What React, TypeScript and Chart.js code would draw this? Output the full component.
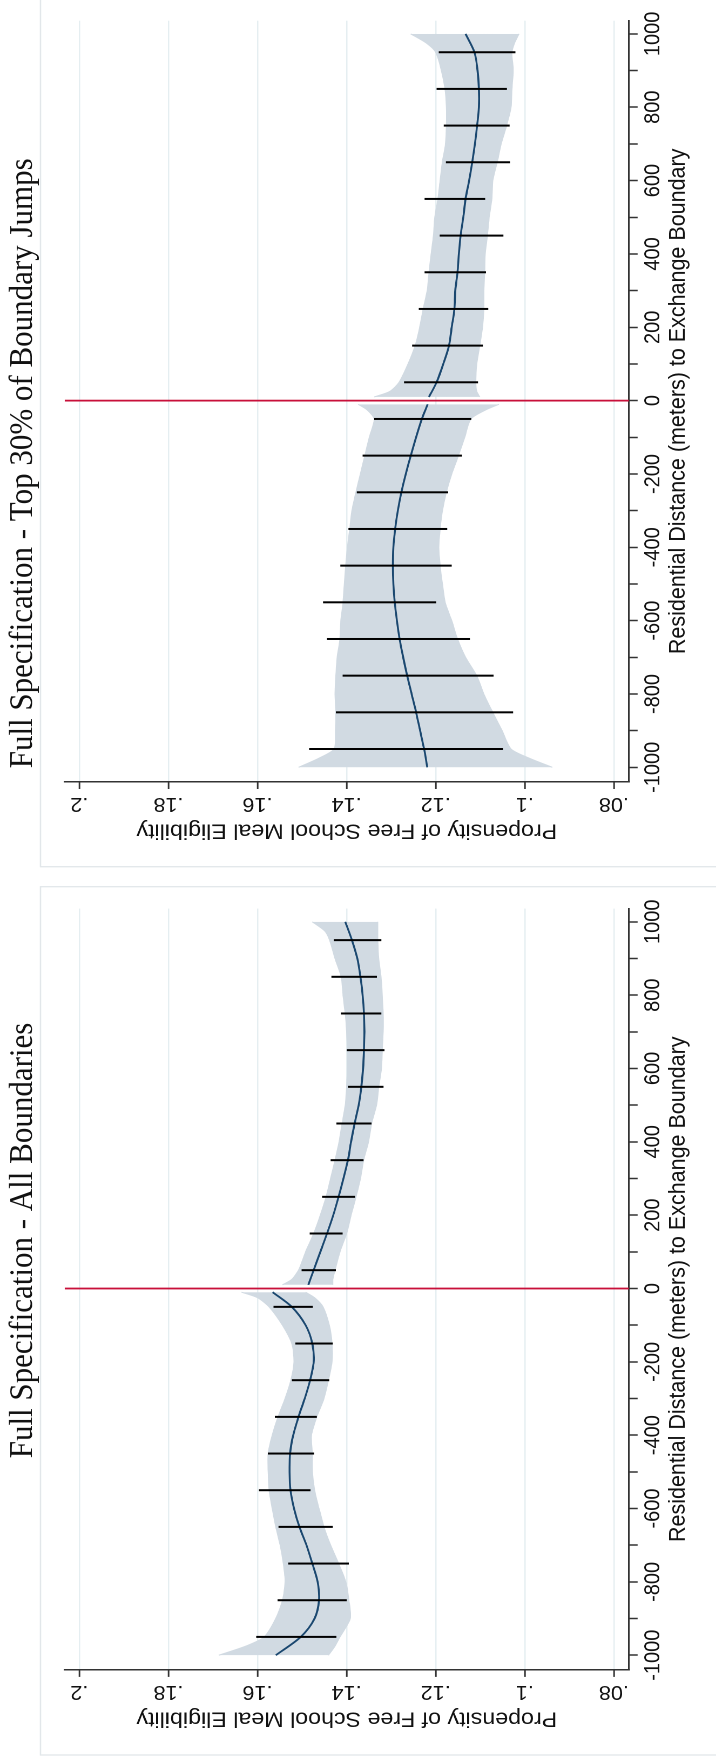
import React, { useEffect, useRef } from "react";
import { Chart, registerables } from "chart.js";

Chart.register(...registerables);

// ---------- axes ----------
const X_MIN = -1040;
const X_MAX = 1036;
const Y_MIN = 0.0766;
const Y_MAX = 0.2033;
const X_TICKS = [-1000, -900, -800, -700, -600, -500, -400, -300, -200, -100, 0, 100, 200, 300, 400, 500, 600, 700, 800, 900, 1000];
const X_LABELED = [-1000, -800, -600, -400, -200, 0, 200, 400, 600, 800, 1000];
const Y_TICKS = [0.08, 0.1, 0.12, 0.14, 0.16, 0.18, 0.2];
const Y_TICK_LABELS = [".08", ".1", ".12", ".14", ".16", ".18", ".2"];
const X_TITLE = "Residential Distance (meters) to Exchange Boundary";
const Y_TITLE = "Propensity of Free School Meal Eligibility";
const CUTOFF = 0;

// ---------- shared x positions ----------
const BIN_CENTERS = [-950, -850, -750, -650, -550, -450, -350, -250, -150, -50, 50, 150, 250, 350, 450, 550, 650, 750, 850, 950];
const BAND_LEFT_D = [-1000, -975, -950, -900, -850, -800, -750, -700, -650, -600, -550, -500, -450, -400, -350, -300, -250, -200, -150, -100, -50, -25, -10];
const BAND_RIGHT_D = [10, 25, 50, 100, 150, 200, 250, 300, 350, 400, 450, 500, 550, 600, 650, 700, 750, 800, 850, 900, 950, 975, 1000];
const FIT_LEFT_D = [-1000, -950, -900, -850, -800, -750, -700, -650, -600, -550, -500, -450, -400, -350, -300, -250, -200, -150, -100, -50, -10];
const FIT_RIGHT_D = [10, 50, 100, 150, 200, 250, 300, 350, 400, 450, 500, 550, 600, 650, 700, 750, 800, 850, 900, 950, 1000];

// ---------- panel 1: All Boundaries ----------
const P1_TITLE = "Full Specification - All Boundaries";
const P1_BAR_LO = [0.1423, 0.1400, 0.1395, 0.1431, 0.1481, 0.1473, 0.1467, 0.1439, 0.1431, 0.1476, 0.1424, 0.1409, 0.1381, 0.1362, 0.1344, 0.1317, 0.1315, 0.1322, 0.1332, 0.1322];
const P1_BAR_HI = [0.1603, 0.1555, 0.1531, 0.1553, 0.1597, 0.1577, 0.1561, 0.1523, 0.1515, 0.1564, 0.1501, 0.1483, 0.1455, 0.1436, 0.1423, 0.1397, 0.1400, 0.1413, 0.1434, 0.1429];
const P1_BAND_L_HI = [0.1687, 0.1626, 0.1585, 0.1559, 0.1544, 0.1538, 0.1542, 0.1549, 0.1559, 0.1567, 0.1574, 0.1576, 0.1576, 0.1567, 0.1554, 0.1538, 0.1525, 0.1518, 0.1523, 0.1544, 0.1574, 0.1600, 0.1636];
const P1_BAND_L_LO = [0.1441, 0.1426, 0.1415, 0.1392, 0.1395, 0.1402, 0.1418, 0.1436, 0.1451, 0.1462, 0.1472, 0.1477, 0.1477, 0.1479, 0.1467, 0.1451, 0.1441, 0.1433, 0.1433, 0.1439, 0.1453, 0.1472, 0.1492];
const P1_BAND_R_HI = [0.1544, 0.1523, 0.1508, 0.1492, 0.1474, 0.1459, 0.1446, 0.1436, 0.1426, 0.1417, 0.1410, 0.1403, 0.1400, 0.1398, 0.1398, 0.1400, 0.1403, 0.1408, 0.1412, 0.1426, 0.1438, 0.1449, 0.1477];
const P1_BAND_R_LO = [0.1431, 0.1431, 0.1426, 0.1415, 0.1400, 0.1390, 0.1379, 0.1369, 0.1362, 0.1351, 0.1344, 0.1333, 0.1328, 0.1322, 0.1320, 0.1318, 0.1318, 0.1320, 0.1323, 0.1328, 0.1330, 0.1330, 0.1330];
const P1_FIT_L = [0.1559, 0.1503, 0.1472, 0.1462, 0.1465, 0.1477, 0.1490, 0.1506, 0.1518, 0.1526, 0.1528, 0.1527, 0.1520, 0.1508, 0.1494, 0.1482, 0.1474, 0.1477, 0.1492, 0.1523, 0.1566];
const P1_FIT_R = [0.1486, 0.1474, 0.1459, 0.1444, 0.1430, 0.1418, 0.1407, 0.1397, 0.1390, 0.1382, 0.1373, 0.1367, 0.1363, 0.1361, 0.1360, 0.1361, 0.1364, 0.1369, 0.1376, 0.1388, 0.1403];

// ---------- panel 2: Top 30% of Boundary Jumps ----------
const P2_TITLE = "Full Specification - Top 30% of Boundary Jumps";
const P2_BAR_LO = [0.1049, 0.1026, 0.1070, 0.1123, 0.1199, 0.1164, 0.1174, 0.1172, 0.1141, 0.1120, 0.1105, 0.1094, 0.1082, 0.1087, 0.1048, 0.1089, 0.1033, 0.1034, 0.1040, 0.1021];
const P2_BAR_HI = [0.1484, 0.1424, 0.1409, 0.1444, 0.1453, 0.1414, 0.1396, 0.1377, 0.1364, 0.1338, 0.1271, 0.1253, 0.1238, 0.1225, 0.1191, 0.1225, 0.1177, 0.1182, 0.1198, 0.1193];
const P2_BAND_L_HI = [0.1508, 0.1462, 0.1428, 0.1425, 0.1424, 0.1426, 0.1424, 0.1421, 0.1415, 0.1413, 0.1408, 0.1405, 0.1402, 0.1398, 0.1393, 0.1388, 0.1379, 0.1369, 0.1359, 0.1349, 0.1338, 0.1354, 0.1374];
const P2_BAND_L_LO = [0.0938, 0.0990, 0.1031, 0.1051, 0.1072, 0.1092, 0.1108, 0.1133, 0.1151, 0.1164, 0.1179, 0.1185, 0.1190, 0.1193, 0.1190, 0.1185, 0.1176, 0.1164, 0.1149, 0.1135, 0.1121, 0.1087, 0.1058];
const P2_BAND_R_HI = [0.1338, 0.1303, 0.1282, 0.1262, 0.1246, 0.1236, 0.1228, 0.1219, 0.1215, 0.1210, 0.1205, 0.1202, 0.1195, 0.1190, 0.1185, 0.1178, 0.1176, 0.1176, 0.1179, 0.1187, 0.1200, 0.1221, 0.1256];
const P2_BAND_R_LO = [0.1101, 0.1108, 0.1110, 0.1108, 0.1101, 0.1095, 0.1092, 0.1092, 0.1090, 0.1089, 0.1084, 0.1080, 0.1074, 0.1072, 0.1062, 0.1053, 0.1041, 0.1031, 0.1029, 0.1026, 0.1029, 0.1023, 0.1013];
const P2_FIT_L = [0.1219, 0.1226, 0.1235, 0.1244, 0.1254, 0.1264, 0.1273, 0.1281, 0.1287, 0.1292, 0.1295, 0.1296, 0.1295, 0.1291, 0.1285, 0.1277, 0.1267, 0.1256, 0.1244, 0.1231, 0.1218];
const P2_FIT_R = [0.1215, 0.1198, 0.1183, 0.1170, 0.1164, 0.1158, 0.1156, 0.1151, 0.1148, 0.1144, 0.1138, 0.1133, 0.1125, 0.1118, 0.1112, 0.1107, 0.1103, 0.1103, 0.1106, 0.1113, 0.1133];

// ---------- layout / style ----------
const STRETCH = 1.08;
const CANVAS_W = 880;
const CANVAS_H = 663;
const CHART_TOP = 59.9;
const CHART_BOTTOM = 582.4;
const PLOT_W = 761.3;
const TITLE_BASELINE = 29.4;
const XLABEL_BASELINE = 610.7;
const XTITLE_BASELINE = 634;
const YLABEL_OFFSET = 16;
const YTITLE_OFFSET = 42.5;
const BOX_TOP = 37.5;

const NAVY = "#1a476f";
const BAND = "#d1dae2";
const RED = "#c8103a";
const GRID = "#e5eef1";
const AXIS = "#333333";
const TEXT = "#111111";
const SANS = '"Liberation Sans", Arial, sans-serif';
const SERIF = '"Liberation Serif", "Times New Roman", serif';

type Panel = {
  key: string;
  title: string;
  titleX: number;
  chartLeft: number;
  boxX0: number;
  boxX1: number;
  barLo: number[];
  barHi: number[];
  bandLHi: number[];
  bandLLo: number[];
  bandRHi: number[];
  bandRLo: number[];
  fitL: number[];
  fitR: number[];
};

const PANEL1: Panel = {
  key: "p1", title: P1_TITLE, titleX: 301.7, chartLeft: 90.1, boxX0: 5, boxX1: 873.3,
  barLo: P1_BAR_LO, barHi: P1_BAR_HI, bandLHi: P1_BAND_L_HI, bandLLo: P1_BAND_L_LO,
  bandRHi: P1_BAND_R_HI, bandRLo: P1_BAND_R_LO, fitL: P1_FIT_L, fitR: P1_FIT_R,
};
const PANEL2: Panel = {
  key: "p2", title: P2_TITLE, titleX: 111.7, chartLeft: 98.0, boxX0: 13.3, boxX1: CANVAS_W + 20,
  barLo: P2_BAR_LO, barHi: P2_BAR_HI, bandLHi: P2_BAND_L_HI, bandLLo: P2_BAND_L_LO,
  bandRHi: P2_BAND_R_HI, bandRLo: P2_BAND_R_LO, fitL: P2_FIT_L, fitR: P2_FIT_R,
};

function pts(xs: number[], ys: number[]) {
  return xs.map((x, i) => ({ x, y: ys[i] }));
}
function barPts(lo: number[], hi: number[]) {
  const out: { x: number; y: number | null }[] = [];
  BIN_CENTERS.forEach((x, i) => {
    out.push({ x, y: lo[i] }, { x, y: hi[i] }, { x, y: null });
  });
  return out;
}

function decorPlugin(p: Panel) {
  return {
    id: "decor_" + p.key,
    beforeDraw(chart: any) {
      const ctx = chart.ctx;
      ctx.save();
      ctx.strokeStyle = "#e2e7ea";
      ctx.lineWidth = 1.3;
      ctx.strokeRect(p.boxX0, BOX_TOP, p.boxX1 - p.boxX0, CANVAS_H + 50);
      ctx.restore();
    },
    afterDraw(chart: any) {
      const ctx = chart.ctx;
      const xs = chart.scales.x;
      const ys = chart.scales.y;
      const ca = chart.chartArea;
      ctx.save();
      ctx.fillStyle = TEXT;
      // title
      ctx.font = `31px ${SERIF}`;
      ctx.textAlign = "left";
      ctx.textBaseline = "alphabetic";
      ctx.fillText(p.title, p.titleX, TITLE_BASELINE);
      // x tick labels
      ctx.font = `20px ${SANS}`;
      ctx.textAlign = "center";
      X_LABELED.forEach((v) => {
        ctx.fillText(String(v), xs.getPixelForValue(v), XLABEL_BASELINE);
      });
      // x title
      ctx.font = `21.5px ${SANS}`;
      ctx.fillText(X_TITLE, (ca.left + ca.right) / 2, XTITLE_BASELINE);
      // y tick labels (vertical)
      ctx.font = `20px ${SANS}`;
      Y_TICKS.forEach((v, i) => {
        ctx.save();
        ctx.translate(ca.left - YLABEL_OFFSET, ys.getPixelForValue(v));
        ctx.rotate(-Math.PI / 2);
        ctx.fillText(Y_TICK_LABELS[i], 0, 0);
        ctx.restore();
      });
      // y title
      ctx.save();
      ctx.font = `21.5px ${SANS}`;
      ctx.translate(ca.left - YTITLE_OFFSET, (ca.top + ca.bottom) / 2);
      ctx.rotate(-Math.PI / 2);
      ctx.fillText(Y_TITLE, 0, 0);
      ctx.restore();
      ctx.restore();
    },
  };
}

function makeConfig(p: Panel): any {
  const chartRight = p.chartLeft + PLOT_W;
  const bandLine = { borderColor: BAND, borderWidth: 1, pointRadius: 0, tension: 0.25, order: 10 };
  return {
    type: "line",
    data: {
      datasets: [
        { ...bandLine, data: pts(BAND_LEFT_D, p.bandLLo), fill: false },
        { ...bandLine, data: pts(BAND_LEFT_D, p.bandLHi), fill: "-1", backgroundColor: BAND },
        { ...bandLine, data: pts(BAND_RIGHT_D, p.bandRLo), fill: false },
        { ...bandLine, data: pts(BAND_RIGHT_D, p.bandRHi), fill: "-1", backgroundColor: BAND },
        { data: pts(FIT_LEFT_D, p.fitL), borderColor: NAVY, borderWidth: 1.8, pointRadius: 0, tension: 0.3, fill: false, order: 5 },
        { data: pts(FIT_RIGHT_D, p.fitR), borderColor: NAVY, borderWidth: 1.8, pointRadius: 0, tension: 0.3, fill: false, order: 5 },
        { data: barPts(p.barLo, p.barHi), borderColor: "#000000", borderWidth: 2, pointRadius: 0, tension: 0, spanGaps: false, fill: false, order: 3 },
        { data: [{ x: CUTOFF, y: Y_MIN }, { x: CUTOFF, y: Y_MAX }], borderColor: RED, borderWidth: 1.8, pointRadius: 0, fill: false, order: 1 },
      ],
    },
    options: {
      animation: false,
      responsive: false,
      devicePixelRatio: 2,
      events: [],
      layout: {
        autoPadding: false,
        padding: { left: 0, top: CHART_TOP, right: CANVAS_W - chartRight, bottom: 0 },
      },
      plugins: { legend: { display: false }, tooltip: { enabled: false }, title: { display: false } },
      scales: {
        x: {
          type: "linear",
          min: X_MIN,
          max: X_MAX,
          afterBuildTicks: (s: any) => { s.ticks = X_TICKS.map((value) => ({ value })); },
          afterFit: (s: any) => { s.height = CANVAS_H - CHART_BOTTOM; },
          ticks: { display: false, autoSkip: false },
          grid: { drawOnChartArea: false, drawTicks: true, tickLength: 8, tickColor: AXIS, tickWidth: 1.5 },
          border: { display: true, color: AXIS, width: 1.5 },
        },
        y: {
          type: "linear",
          min: Y_MIN,
          max: Y_MAX,
          afterBuildTicks: (s: any) => { s.ticks = Y_TICKS.map((value) => ({ value })); },
          afterFit: (s: any) => { s.width = p.chartLeft; },
          ticks: { display: false },
          grid: { drawOnChartArea: true, color: GRID, lineWidth: 1.2, drawTicks: true, tickLength: 7, tickColor: AXIS, tickWidth: 1.5 },
          border: { display: true, color: AXIS, width: 1.5 },
        },
      },
    },
    plugins: [decorPlugin(p)],
  };
}

export default function App() {
  const ref1 = useRef<HTMLCanvasElement>(null);
  const ref2 = useRef<HTMLCanvasElement>(null);
  useEffect(() => {
    document.body.style.margin = "0";
    document.body.style.background = "#ffffff";
    const c1 = new Chart(ref1.current as HTMLCanvasElement, makeConfig(PANEL1));
    const c2 = new Chart(ref2.current as HTMLCanvasElement, makeConfig(PANEL2));
    return () => {
      c1.destroy();
      c2.destroy();
    };
  }, []);
  return (
    <div
      style={{
        position: "absolute",
        left: 0,
        top: 0,
        width: CANVAS_W * 2,
        height: CANVAS_H,
        background: "#ffffff",
        transformOrigin: "0 0",
        transform: `translate(0px, 1760px) rotate(-90deg) scale(1, ${STRETCH})`,
      }}
    >
      <canvas ref={ref1} width={CANVAS_W} height={CANVAS_H} style={{ position: "absolute", left: 0, top: 0, width: CANVAS_W, height: CANVAS_H }} />
      <canvas ref={ref2} width={CANVAS_W} height={CANVAS_H} style={{ position: "absolute", left: CANVAS_W, top: 0, width: CANVAS_W, height: CANVAS_H }} />
    </div>
  );
}
